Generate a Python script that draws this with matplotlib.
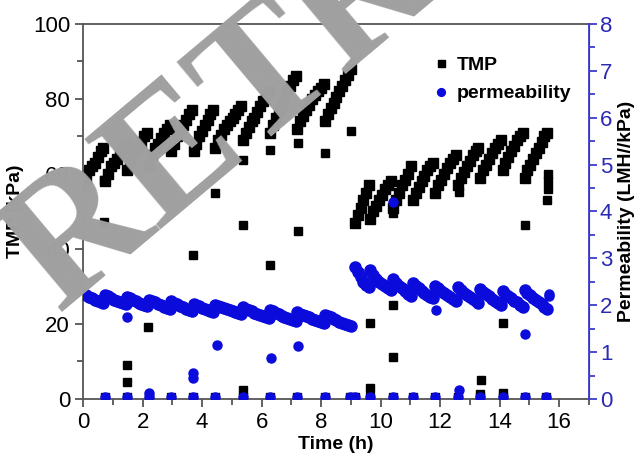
import numpy as np
import matplotlib
matplotlib.use('Agg')
import matplotlib.pyplot as plt
from matplotlib.ticker import MultipleLocator

plt.rcParams['font.family'] = ['Liberation Sans', 'DejaVu Sans']

# filtration cycles (h) and values read per cycle
cycle_start = [0.0, 0.73, 1.48, 2.2, 2.96, 3.71, 4.42, 5.37, 6.29, 7.2, 8.13,
               9.15, 9.66, 10.41, 11.08, 11.82, 12.6, 13.34, 14.1, 14.84]
cycle_end = [0.68, 1.43, 2.15, 2.91, 3.66, 4.37, 5.32, 6.24, 7.15, 8.08, 9.0,
             9.6, 10.36, 11.03, 11.77, 12.55, 13.29, 14.05, 14.79, 15.6]

tmp_cycles = [
    [57, 59, 61, 62, 63, 64.5, 66, 67],
    [58, 60, 62, 63, 64, 65.5, 67, 68],
    [61, 63, 65, 66, 67, 68.5, 70, 71],
    [62, 65, 67, 68, 69.5, 71, 72, 73],
    [66, 68, 70, 71.5, 73, 74.5, 76, 77],
    [66, 68, 70, 71.5, 73, 74.5, 76, 77],
    [67, 69, 70.5, 72, 73, 74, 75, 76, 77, 78],
    [69, 71, 72.5, 74, 75, 76.5, 78, 79.5, 81, 82],
    [71, 73, 75, 77, 78.5, 80, 82, 83.5, 85, 86],
    [72, 74, 75.5, 77, 78.5, 80, 81, 82, 83, 84],
    [74, 76, 77.5, 79, 80.5, 82, 83.5, 85, 86.5, 88],
    [47, 49, 51, 53, 55, 57],
    [48, 50, 51.5, 53, 54.5, 56, 57, 58],
    [51, 53, 55, 57, 58.5, 60, 62],
    [53, 55, 56.5, 58, 59.5, 61, 62, 63],
    [55, 57, 58.5, 60, 61.5, 63, 64, 65],
    [57, 59, 60.5, 62, 63.5, 65, 66, 67],
    [59, 61, 62.5, 64, 65.5, 67, 68, 69],
    [61, 63, 64.5, 66, 67.5, 69, 70, 71],
    [59, 61, 62.5, 64, 65.5, 67, 68.5, 70, 71],
]

perm_cycles = [
    [2.25, 2.22, 2.18, 2.15, 2.12, 2.09, 2.07, 2.05],
    [2.22, 2.19, 2.15, 2.12, 2.09, 2.06, 2.04, 2.02],
    [2.18, 2.15, 2.11, 2.08, 2.05, 2.02, 2.0, 1.98],
    [2.12, 2.09, 2.06, 2.03, 2.0, 1.97, 1.94, 1.92],
    [2.08, 2.05, 2.02, 1.99, 1.96, 1.93, 1.9, 1.88],
    [2.02, 2.0, 1.98, 1.95, 1.92, 1.9, 1.87, 1.85],
    [2.0, 1.98, 1.96, 1.94, 1.92, 1.9, 1.88, 1.86, 1.84, 1.82],
    [1.96, 1.93, 1.9, 1.87, 1.84, 1.81, 1.79, 1.77, 1.74, 1.72],
    [1.9, 1.87, 1.84, 1.81, 1.78, 1.75, 1.73, 1.71, 1.68, 1.66],
    [1.85, 1.82, 1.79, 1.76, 1.74, 1.71, 1.69, 1.67, 1.64, 1.62],
    [1.8, 1.77, 1.74, 1.71, 1.68, 1.65, 1.62, 1.6, 1.57, 1.55],
    [2.82, 2.7, 2.6, 2.5, 2.43, 2.38],
    [2.75, 2.65, 2.57, 2.5, 2.45, 2.4, 2.36, 2.33],
    [2.55, 2.48, 2.42, 2.36, 2.3, 2.25, 2.2],
    [2.48, 2.42, 2.36, 2.31, 2.26, 2.22, 2.18, 2.15],
    [2.42, 2.36, 2.31, 2.26, 2.21, 2.17, 2.13, 2.1],
    [2.38, 2.32, 2.27, 2.22, 2.17, 2.13, 2.09, 2.05],
    [2.35, 2.29, 2.24, 2.19, 2.14, 2.1, 2.05, 2.0],
    [2.3, 2.25, 2.2, 2.15, 2.1, 2.06, 2.01, 1.97],
    [2.32, 2.26, 2.21, 2.16, 2.11, 2.07, 2.02, 1.97, 1.93],
]

# backwash points (near zero) and scattered transition points
backwash_t = [0.73, 1.47, 2.2, 2.96, 3.7, 4.43, 5.37, 6.29, 7.2, 8.13, 8.97,
              9.15, 9.66, 10.41, 11.08, 11.82, 12.6, 13.34, 14.1, 14.84, 15.57]
backwash_tmp = [0.5] * len(backwash_t)
backwash_perm = [0.05] * len(backwash_t)

tmp_extra_t = [0.71, 0.71, 1.47, 1.47, 2.18, 3.7, 4.43, 5.38, 5.38, 5.38, 6.27,
               6.27, 7.23, 7.23, 8.12, 9.0, 9.66, 9.66, 10.41, 10.41, 10.41,
               12.62, 13.37, 14.12, 14.87, 15.6, 15.62, 15.62, 15.62, 13.34, 14.1]
tmp_extra_v = [47.3, 58.4, 9.1, 4.6, 19.3, 38.4, 54.9, 63.8, 46.4, 2.4, 66.5,
               35.8, 68.2, 44.7, 65.6, 71.4, 2.8, 20.2, 49.6, 25.1, 11.3,
               55.1, 5.1, 20.2, 46.3, 53.1, 56, 58, 60, 1.2, 1.6]

perm_extra_t = [1.48, 2.22, 3.7, 3.7, 4.49, 6.3, 7.22, 10.41, 11.85, 12.62,
                14.87, 15.65, 15.65]
perm_extra_v = [1.75, 0.12, 0.45, 0.55, 1.15, 0.87, 1.12, 4.2, 1.9, 0.2,
                1.38, 2.25, 2.2]

fig = plt.figure(figsize=(6.4, 4.61), dpi=100)
ax = fig.add_axes([0.13, 0.1345, 0.79, 0.8135])
ax2 = ax.twinx()

tmp_t, tmp_v, perm_t, perm_v = [], [], [], []
for s, e, tv, pv in zip(cycle_start, cycle_end, tmp_cycles, perm_cycles):
    tmp_t += list(np.linspace(s, e, len(tv)))
    tmp_v += tv
    perm_t += list(np.linspace(s, e, len(pv)))
    perm_v += pv

black = 'black'
pblue = '#0b0bdc'
ax.plot(tmp_t, tmp_v, 's', color=black, ms=7.2, label='TMP')
ax.plot(backwash_t + tmp_extra_t, backwash_tmp + tmp_extra_v, 's',
        color=black, ms=5.5)
ax2.plot(perm_t, perm_v, 'o', color=pblue, ms=8, label='permeability')
ax2.plot(backwash_t + perm_extra_t, backwash_perm + perm_extra_v, 'o',
         color=pblue, ms=6.5)

ax.set_xlim(0, 17)
ax.set_ylim(0, 100)
ax2.set_ylim(0, 8)

ax.xaxis.set_major_locator(MultipleLocator(2))
ax.xaxis.set_minor_locator(MultipleLocator(1))
ax.yaxis.set_major_locator(MultipleLocator(20))
ax.yaxis.set_minor_locator(MultipleLocator(10))
ax2.yaxis.set_major_locator(MultipleLocator(1))
ax2.yaxis.set_minor_locator(MultipleLocator(0.5))

grey = '#555555'
blue = '#3c3cd0'
for sp in ['left', 'bottom', 'top']:
    ax.spines[sp].set_color(grey)
    ax.spines[sp].set_linewidth(1.3)
ax2.spines['right'].set_color(blue)
ax2.spines['right'].set_linewidth(1.3)
for sp in ['left', 'bottom', 'top']:
    ax2.spines[sp].set_visible(False)

ax.tick_params(axis='both', which='major', direction='out', length=6, width=1.3,
               color=grey, labelsize=16, labelcolor='black')
ax.tick_params(axis='both', which='minor', direction='out', length=4, width=1.3,
               color=grey)
ax2.tick_params(axis='y', which='major', direction='out', length=6, width=1.3,
                color=blue, labelsize=16, labelcolor='#2a2ab4', pad=2)
ax2.tick_params(axis='y', which='minor', direction='out', length=4, width=1.3,
                color=blue)

ax.set_xlabel('Time (h)', fontsize=14, fontweight='bold', labelpad=2)
ax.set_ylabel('TMP (kPa)', fontsize=14, fontweight='bold', labelpad=6)
ax2.set_ylabel('Permeability (LMH//kPa)', fontsize=14, fontweight='bold',
               labelpad=4)

h1, l1 = ax.get_legend_handles_labels()
h2, l2 = ax2.get_legend_handles_labels()
ax2.legend(h1 + h2, l1 + l2, loc='upper right', bbox_to_anchor=(1.0, 0.96),
           frameon=False, handletextpad=0.2, handlelength=1.2,
           markerscale=0.7, labelspacing=0.55,
           prop={'size': 14, 'weight': 'bold'})

# retraction stamp over the figure
fig.text(0.091, 0.322, 'RETRACTED', fontsize=130, family='Liberation Serif',
         fontweight='bold', color='#a0a0a0', rotation=40,
         rotation_mode='anchor', ha='left', va='baseline', zorder=10)

fig.savefig('out.png', dpi=100)
